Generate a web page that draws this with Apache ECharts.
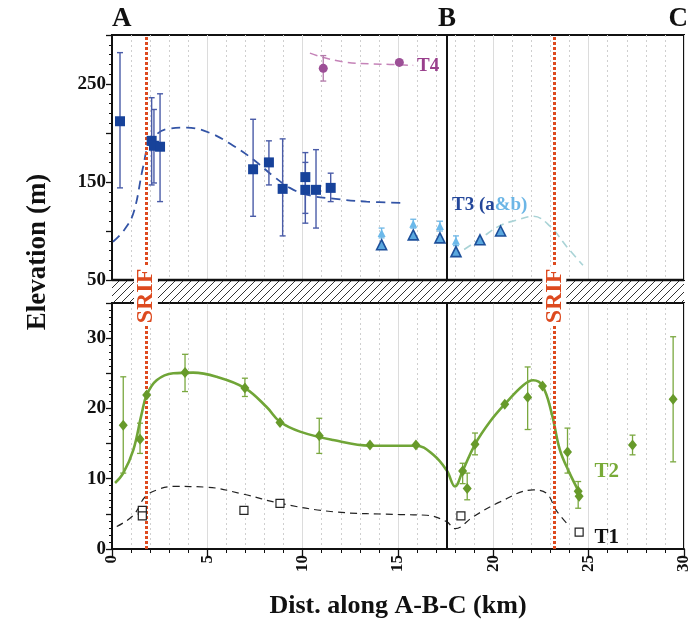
<!DOCTYPE html>
<html>
<head>
<meta charset="utf-8">
<script src="https://cdn.jsdelivr.net/npm/echarts@6/dist/echarts.min.js"></script>
<style>
  html, body { margin: 0; padding: 0; background: #fff; }
  #chart { width: 700px; height: 624px; }
</style>
</head>
<body>
<div id="chart"></div>
<script>
// --- data (km along A-B-C, elevation in m) ---
const t3X = [0.42, 2.08, 2.2, 2.52, 7.4, 8.23, 8.95, 10.14, 10.14, 10.7, 11.47]
const t3Y = [212, 192, 187, 186, 163, 170, 143, 155, 142, 142, 144]
const t3Lo = [144, 147, 149, 130, 115, 147, 95, 108, 118, 103, 130]
const t3Hi = [282, 236, 224, 240, 214, 192, 194, 180, 170, 183, 159]
const t3FitX = [0.05, 0.6, 1.12, 1.64, 1.99, 2.87, 3.92, 5.14, 6.36, 7.41, 8.46, 9.33, 10.2, 11.6, 13.35, 15.36]
const t3FitY = [89, 100, 118, 166, 190, 204, 205.5, 200, 187, 173, 156, 144, 137, 133, 130, 128.6]

const t4X = [11.08, 15.07]
const t4Y = [266, 272]
const t4ErrX = [11.08]
const t4Lo = [253]
const t4Hi = [279]
const t4FitX = [10.38, 11.1, 12.3, 13.5, 14.58, 15.8]
const t4FitY = [281.5, 277, 272, 270.5, 270, 269]

const t3aX = [14.14, 15.8, 17.2, 18.04, 19.3, 20.38]
const t3aY = [86, 96, 93, 79, 91, 100]
const t3bX = [14.14, 15.8, 17.2, 18.04]
const t3bY = [98, 107.5, 105, 90]
const t3bLo = [93, 103, 100, 85]
const t3bHi = [103, 112, 110, 95]
const t3abFitX = [17.9, 19.24, 20.3, 21.2, 22.1, 22.97, 23.85, 24.7]
const t3abFitY = [74, 91, 105, 111, 115, 105, 84, 65]

const t2X = [0.59, 1.47, 1.82, 3.83, 6.97, 8.81, 10.87, 13.53, 15.94, 18.39, 18.63, 19.04, 20.6, 21.8, 22.58, 23.89, 24.45, 24.5, 27.3, 29.43]
const t2Y = [17.6, 15.6, 21.9, 25.1, 22.9, 18.0, 16.1, 14.8, 14.8, 11.1, 8.6, 14.9, 20.6, 21.6, 23.2, 13.8, 8.2, 7.5, 14.8, 21.3]
const t2ErrX = [0.59, 1.47, 3.83, 6.97, 10.87, 18.39, 18.63, 19.04, 21.8, 23.89, 24.45, 27.3, 29.43]
const t2Lo = [10.8, 13.6, 22.4, 21.7, 13.6, 9.3, 7.0, 13.4, 17.0, 10.8, 5.8, 13.4, 12.4]
const t2Hi = [24.5, 17.9, 27.7, 24.3, 18.6, 12.2, 10.8, 16.5, 25.9, 17.2, 9.6, 16.2, 30.2]
const t2FitX = [0.16, 0.59, 1.12, 1.56, 1.82, 2.34, 3.21, 4.26, 5.49, 6.97, 8.11, 8.81, 9.86, 11.6, 13.53, 15.94, 16.85, 17.55, 17.99, 18.39, 19.04, 19.82, 20.6, 21.57, 22.09, 22.58, 23.06, 23.49, 24.0, 24.54]
const t2FitY = [9.4, 10.8, 14.1, 19.3, 21.9, 24.0, 25.0, 25.1, 24.5, 22.9, 20.2, 18.1, 16.7, 15.5, 14.7, 14.7, 13.4, 11.2, 8.9, 11.1, 14.9, 18.1, 20.6, 23.3, 24.0, 23.2, 19.3, 14.1, 10.8, 7.9]

const t1X = [1.59, 1.59, 6.92, 8.81, 18.3, 24.5]
const t1Y = [5.5, 4.7, 5.5, 6.5, 4.7, 2.4]
const t1FitX = [0.25, 1.12, 1.73, 2.34, 3.21, 4.96, 6.89, 8.81, 11.6, 15.1, 16.5, 17.55, 17.99, 18.95, 20.35, 22.09, 22.8, 23.3, 24.0]
const t1FitY = [3.2, 4.8, 7.4, 8.4, 8.9, 8.8, 7.8, 6.5, 5.3, 4.9, 4.8, 3.9, 2.9, 4.6, 6.7, 8.4, 7.9, 5.5, 3.2]

const B_X = 17.57
const SRIF_X = [1.78, 23.2]
const sectionX = [0, 17.57, 29.7]
const sectionNames = ['A', 'B', 'C']
const upperTicks = [50, 150, 250]
const lowerTicks = [0, 10, 20, 30]

// --- layout ---
const serif = '"Liberation Serif", "DejaVu Serif", serif'
const SRIF_COLOR = '#dd4a1f'
const zip = (a, b) => a.map((v, i) => [v, b[i]])
const zip3 = (a, b, c) => a.map((v, i) => [v, b[i], c[i]])

function errorBar(color, width) {
  return function (params, api) {
    const x = api.value(0)
    const top = api.coord([x, api.value(2)])
    const bot = api.coord([x, api.value(1)])
    const w = 3
    const style = { stroke: color, lineWidth: width, fill: null }
    return {
      type: 'group',
      children: [
        { type: 'line', shape: { x1: top[0], y1: top[1], x2: bot[0], y2: bot[1] }, style },
        { type: 'line', shape: { x1: top[0] - w, y1: top[1], x2: top[0] + w, y2: top[1] }, style },
        { type: 'line', shape: { x1: bot[0] - w, y1: bot[1], x2: bot[0] + w, y2: bot[1] }, style }
      ]
    }
  }
}

// B boundary and the two SRIF fault traces
const vLines = {
  symbol: 'none', silent: true, label: { show: false },
  data: [
    { xAxis: B_X, lineStyle: { color: '#111', width: 2, type: 'solid' } },
    { xAxis: SRIF_X[0], lineStyle: { color: SRIF_COLOR, width: 3, type: [3, 2] } },
    { xAxis: SRIF_X[1], lineStyle: { color: SRIF_COLOR, width: 3, type: [3, 2] } }
  ]
}

const xBase = {
  type: 'value', min: 0, max: 30, interval: 5,
  splitLine: { show: true, lineStyle: { color: '#dcdcdc', width: 1 } },
  minorTick: { show: false, splitNumber: 5 },
  minorSplitLine: { show: true, lineStyle: { color: '#cfcfcf', type: [2, 3], width: 1 } }
}
const yBase = {
  type: 'value',
  splitLine: { show: false },
  axisLine: { show: true, lineStyle: { color: '#111', width: 2 } },
  axisTick: { show: true, length: 6, lineStyle: { color: '#111', width: 1.3 } },
  minorTick: { show: true, splitNumber: 5, length: 3, lineStyle: { color: '#111', width: 1 } },
  axisLabel: { color: '#111', fontFamily: serif, fontWeight: 'bold', fontSize: 19, margin: 6 }
}

const option = {
  animation: false,
  backgroundColor: '#fff',
  grid: [
    { left: 112, right: 16, top: 35, height: 245, show: true, borderColor: '#111', borderWidth: 2, backgroundColor: 'transparent' },
    { left: 112, right: 16, top: 303, height: 246, show: true, borderColor: '#111', borderWidth: 2, backgroundColor: 'transparent' }
  ],
  xAxis: [
    Object.assign({}, xBase, {
      gridIndex: 0,
      axisLine: { show: false }, axisTick: { show: false }, axisLabel: { show: false }
    }),
    Object.assign({}, xBase, {
      gridIndex: 1,
      axisLine: { show: true, lineStyle: { color: '#111', width: 2 } },
      axisTick: { show: true, length: 7, lineStyle: { color: '#111', width: 1.3 } },
      minorTick: { show: true, splitNumber: 5, length: 4, lineStyle: { color: '#111', width: 1 } },
      axisLabel: { rotate: 90, color: '#111', fontFamily: serif, fontWeight: 'bold', fontSize: 17, margin: 6 },
      name: 'Dist. along A-B-C (km)', nameLocation: 'middle', nameGap: 44,
      nameTextStyle: { color: '#111', fontFamily: serif, fontWeight: 'bold', fontSize: 26 }
    })
  ],
  yAxis: [
    Object.assign({}, yBase, {
      gridIndex: 0, min: 50, max: 300, interval: 50,
      axisLabel: Object.assign({}, yBase.axisLabel, {
        formatter: v => (upperTicks.includes(v) ? String(v) : '')
      })
    }),
    Object.assign({}, yBase, {
      gridIndex: 1, min: 0, max: 35, interval: 5,
      axisLabel: Object.assign({}, yBase.axisLabel, {
        formatter: v => (lowerTicks.includes(v) ? String(v) : '')
      })
    })
  ],
  series: [
    // upper panel
    {
      type: 'line', xAxisIndex: 0, yAxisIndex: 0, data: zip(t3FitX, t3FitY), smooth: 0.4, symbol: 'none',
      lineStyle: { color: '#3354a6', width: 1.8, type: [9, 6] }, z: 3,
      markLine: vLines
    },
    {
      type: 'line', xAxisIndex: 0, yAxisIndex: 0, data: zip(t4FitX, t4FitY), smooth: 0.4, symbol: 'none',
      lineStyle: { color: '#c583b8', width: 1.5, type: [8, 5] }, z: 3
    },
    {
      type: 'line', xAxisIndex: 0, yAxisIndex: 0, data: zip(t3abFitX, t3abFitY), smooth: 0.4, symbol: 'none',
      lineStyle: { color: '#a9d3d6', width: 1.6, type: [8, 5] }, z: 3
    },
    {
      type: 'custom', xAxisIndex: 0, yAxisIndex: 0, data: zip3(t3X, t3Lo, t3Hi),
      renderItem: errorBar('#4a5ca8', 1.4), encode: { x: 0, y: [1, 2] }, z: 4
    },
    {
      type: 'custom', xAxisIndex: 0, yAxisIndex: 0, data: zip3(t4ErrX, t4Lo, t4Hi),
      renderItem: errorBar('#b37aaa', 1.3), encode: { x: 0, y: [1, 2] }, z: 4
    },
    {
      type: 'custom', xAxisIndex: 0, yAxisIndex: 0, data: zip3(t3bX, t3bLo, t3bHi),
      renderItem: errorBar('#6cb6e6', 1.3), encode: { x: 0, y: [1, 2] }, z: 4
    },
    {
      type: 'scatter', xAxisIndex: 0, yAxisIndex: 0, data: zip(t3X, t3Y), symbol: 'rect', symbolSize: 10,
      itemStyle: { color: '#17429a', opacity: 1 }, z: 5
    },
    {
      type: 'scatter', xAxisIndex: 0, yAxisIndex: 0, data: zip(t4X, t4Y), symbol: 'circle', symbolSize: 9,
      itemStyle: { color: '#9c4f96', opacity: 1 }, z: 5
    },
    {
      type: 'scatter', xAxisIndex: 0, yAxisIndex: 0, data: zip(t3aX, t3aY), symbol: 'triangle', symbolSize: 10,
      itemStyle: { color: '#5aa8df', borderColor: '#1d4f9a', borderWidth: 1.6, opacity: 1 }, z: 5
    },
    {
      type: 'scatter', xAxisIndex: 0, yAxisIndex: 0, data: zip(t3bX, t3bY), symbol: 'triangle', symbolSize: 8,
      itemStyle: { color: '#6cb9ea', opacity: 1 }, z: 5
    },
    // lower panel
    {
      type: 'line', xAxisIndex: 1, yAxisIndex: 1, data: zip(t1FitX, t1FitY), smooth: 0.4, symbol: 'none',
      lineStyle: { color: '#222', width: 1.2, type: [7, 5] }, z: 3,
      markLine: vLines
    },
    {
      type: 'line', xAxisIndex: 1, yAxisIndex: 1, data: zip(t2FitX, t2FitY), smooth: 0.4, symbol: 'none',
      lineStyle: { color: '#70a537', width: 2.6 }, z: 3
    },
    {
      type: 'custom', xAxisIndex: 1, yAxisIndex: 1, data: zip3(t2ErrX, t2Lo, t2Hi),
      renderItem: errorBar('#7aa83f', 1.3), encode: { x: 0, y: [1, 2] }, z: 4
    },
    {
      type: 'scatter', xAxisIndex: 1, yAxisIndex: 1, data: zip(t2X, t2Y), symbol: 'diamond', symbolSize: [9, 11],
      itemStyle: { color: '#679a2a', opacity: 1 }, z: 5
    },
    {
      type: 'scatter', xAxisIndex: 1, yAxisIndex: 1, data: zip(t1X, t1Y), symbol: 'rect', symbolSize: 8,
      itemStyle: { color: '#fff', borderColor: '#222', borderWidth: 1.2, opacity: 1 }, z: 5
    }
  ]
}

const chart = echarts.init(document.getElementById('chart'), null, { renderer: 'canvas' })
chart.setOption(option)

// hatched break band between the two panels
const hatch = document.createElement('canvas')
hatch.width = 8
hatch.height = 8
const hctx = hatch.getContext('2d')
hctx.strokeStyle = '#333'
hctx.lineWidth = 1
hctx.beginPath()
hctx.moveTo(-1, 9); hctx.lineTo(9, -1)
hctx.moveTo(-1, 1); hctx.lineTo(1, -1)
hctx.moveTo(7, 9); hctx.lineTo(9, 7)
hctx.stroke()

const px = (g, p) => chart.convertToPixel({ gridIndex: g }, p)
const bandTL = px(0, [0, 50])
const bandBR = px(1, [30, 35])

const label = (g, p, text, color, size) => {
  const q = px(g, p)
  return {
    type: 'text', x: q[0], y: q[1], z: 20,
    style: { text, fill: color, font: 'bold ' + size + 'px ' + serif, align: 'left', verticalAlign: 'middle' }
  }
}

const srif = x => {
  const q = px(1, [x, 35])
  return {
    type: 'text', x: q[0], y: q[1] - 7, rotation: Math.PI / 2, z: 30,
    style: {
      text: 'SRIF', fill: SRIF_COLOR, font: 'bold 24px ' + serif, align: 'center', verticalAlign: 'middle',
      backgroundColor: '#fff', padding: [0, 2]
    }
  }
}

const sectionLabels = sectionX.map((x, i) => {
  const q = px(0, [x, 300])
  return {
    type: 'text', x: q[0], y: q[1] - 16, z: 20,
    style: {
      text: sectionNames[i], fill: '#111', font: 'bold 27px ' + serif,
      align: i === 0 ? 'left' : 'center', verticalAlign: 'middle'
    }
  }
})

chart.setOption({
  graphic: [
    {
      type: 'rect', z: 10,
      shape: { x: bandTL[0], y: bandTL[1], width: bandBR[0] - bandTL[0], height: bandBR[1] - bandTL[1] },
      style: { fill: { image: hatch, repeat: 'repeat' }, stroke: null }
    },
    { type: 'line', z: 11, shape: { x1: bandTL[0], y1: bandTL[1], x2: bandBR[0], y2: bandTL[1] }, style: { stroke: '#111', lineWidth: 2.5 } },
    { type: 'line', z: 11, shape: { x1: bandTL[0], y1: bandBR[1], x2: bandBR[0], y2: bandBR[1] }, style: { stroke: '#111', lineWidth: 1.5 } },
    srif(SRIF_X[0]),
    srif(SRIF_X[1]),
    label(0, [16.0, 268], 'T4', '#993f8c', 19),
    {
      type: 'text', x: px(0, [17.83, 126])[0], y: px(0, [17.83, 126])[1], z: 20,
      style: {
        text: '{d|T3 (a}{l|&b)}', verticalAlign: 'middle',
        rich: {
          d: { fill: '#24479a', font: 'bold 19px ' + serif },
          l: { fill: '#6cb6e6', font: 'bold 19px ' + serif }
        }
      }
    },
    label(1, [25.3, 11], 'T2', '#78aa38', 21),
    label(1, [25.3, 1.6], 'T1', '#111', 21),
    {
      type: 'text', x: 38, y: 252, rotation: Math.PI / 2, z: 20,
      style: { text: 'Elevation (m)', fill: '#111', font: 'bold 27px ' + serif, align: 'center', verticalAlign: 'middle' }
    }
  ].concat(sectionLabels)
})
</script>
</body>
</html>
